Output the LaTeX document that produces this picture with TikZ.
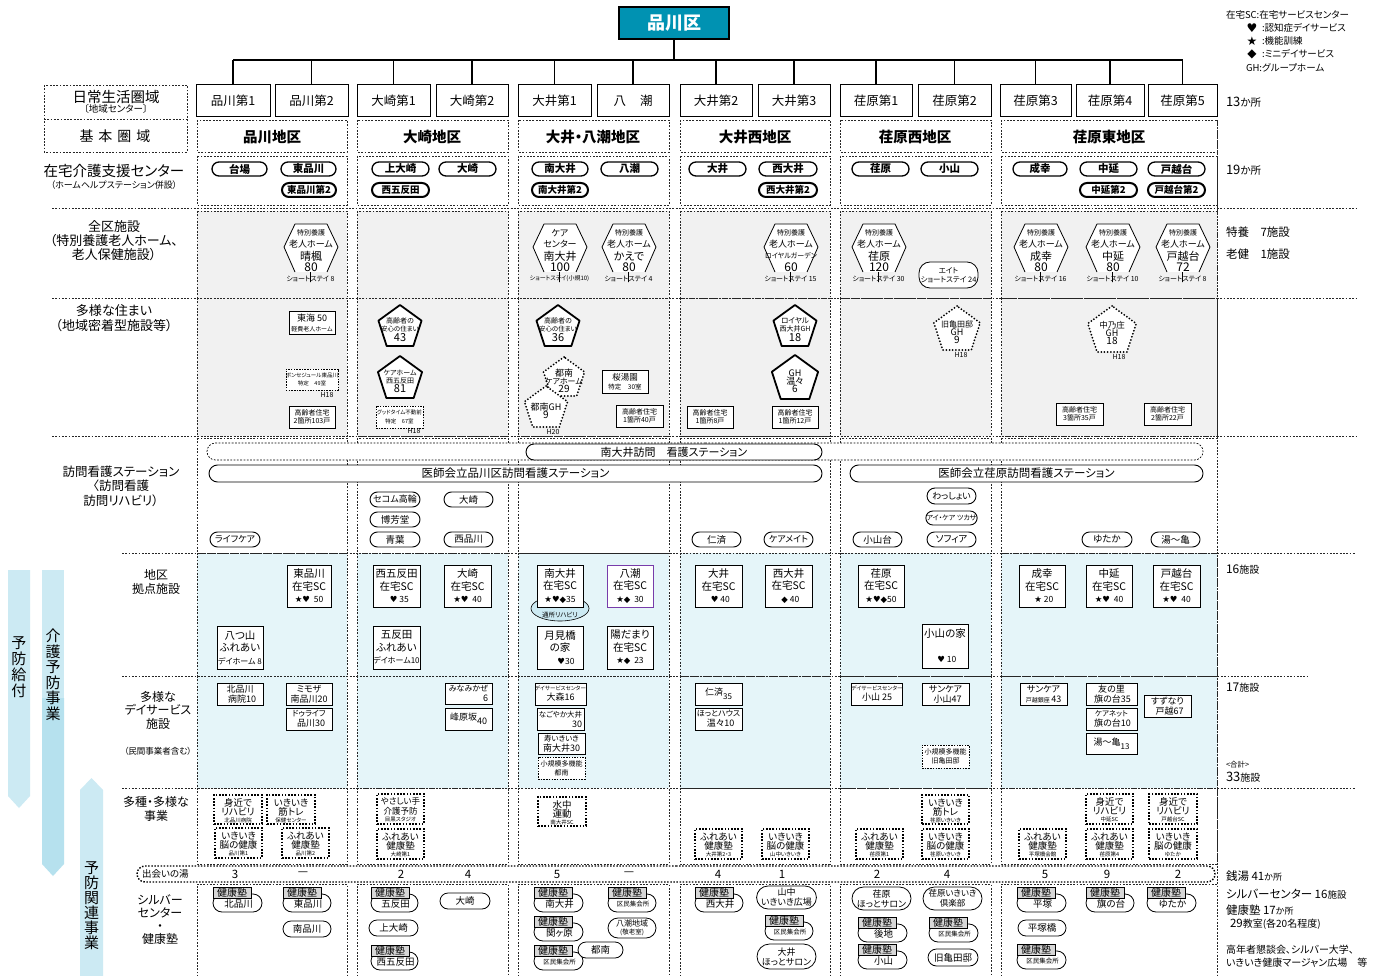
\documentclass[tikz,border=0pt]{standalone}
\usepackage{fontspec}
\setmainfont{Noto Sans CJK JP}[RawFeature={+palt}]
\newfontfamily\sym{DejaVu Sans}
\usetikzlibrary{shapes.misc,shapes.geometric}
\definecolor{teal1}{RGB}{0,146,178}
\definecolor{gfill}{RGB}{241,241,241}
\definecolor{bfill}{RGB}{229,245,249}
\definecolor{band1}{RGB}{204,234,243}
\definecolor{band2}{RGB}{182,225,238}
\definecolor{kjgray}{RGB}{215,215,215}
\definecolor{purp}{RGB}{120,60,170}
\newcommand\fz[2]{\fontsize{#1}{#2}\selectfont}
\newcommand\sSt{{\sym ★}}
\newcommand\sHt{{\sym ♥}}
\newcommand\sDm{{\sym ◆}}
\newcounter{nid}
\newcommand\Tx[3][]{\stepcounter{nid}\node[#1] (n\arabic{nid}) at (#2) {#3};}
\newcommand\Bxx[6][]{\stepcounter{nid}%
 \pgfmathsetmacro\bxcx{(#2+#4)/2}\pgfmathsetmacro\bxcy{(#3+#5)/2}%
 \pgfmathsetmacro\bxw{#4-#2}\pgfmathsetmacro\bxh{#5-#3}%
 \node[minimum width=\bxw pt,minimum height=\bxh pt,#1] (n\arabic{nid}) at (\bxcx,\bxcy) {#6};}
\newcommand\Penta[5][]{%
 \pgfmathsetmacro\pR{(#4-#3)/1.809}\pgfmathsetmacro\pD{2*\pR}%
 \pgfmathsetmacro\pcy{#3+\pR}\pgfmathsetmacro\pty{\pcy+2}%
 \stepcounter{nid}%
 \node[regular polygon,regular polygon sides=5,minimum size=\pD pt,#1] (n\arabic{nid}) at (#2,\pcy) {};%
 \Tx[align=center,font=\fz{6.5}{8}]{#2,\pty}{#5}}
\newcommand\Toku[7]{%
 \Bxx[draw,fill=white,rounded corners=10pt,line width=0.8pt,#7]{#1-28}{262}{#1+27}{288}{}%
 \fill[white] (#1-16,224) -- (#1+16,224) -- (#1+27,247) -- (#1+16,272) -- (#1-16,272) -- (#1-27,247) -- cycle;%
 \draw[line width=0.8pt,line join=round] (#1-16,272) -- (#1-27,247) -- (#1-16,224) -- (#1+16,224) -- (#1+27,247) -- (#1+16,272);%
 \Tx[font=\fz{7}{7}]{#1,233}{#2}%
 \Tx[font=\fz{9}{9}]{#1,244}{#3}%
 \Tx[font=\fz{11}{11}]{#1,256}{#4}%
 \Tx[font=\fz{12}{12}]{#1,267}{#5}%
 \Tx[font=\fz{7}{7}]{#1-0.5,279}{#6}}
\newcommand\KJ[4]{%
 \pgfmathsetmacro\kja{#2+7}\pgfmathsetmacro\kjb{#2+25}%
 \pgfmathsetmacro\kjc{#1+38}\pgfmathsetmacro\kjd{#2+11}%
 \pgfmathsetmacro\kjx{(#1+#3)/2+1}\pgfmathsetmacro\kjy{#2+17}%
 \Bxx[kpill]{#1}{\kja}{#3}{\kjb}{}%
 \Tx[font=\fz{9.5}{9.5}]{\kjx,\kjy}{#4}%
 \Bxx[draw,line width=0.8pt,fill=kjgray,font=\fz{10}{10}]{#1}{#2}{\kjc}{\kjd}{健康塾}}
\newcommand\DB[7]{%
 \Bxx[dbx]{#1}{#2}{#3}{#4}{}%
 \pgfmathsetmacro\dbmx{(#1+#3)/2}\pgfmathsetmacro\dya{#2+7.5}%
 \pgfmathsetmacro\dyb{#2+17}\pgfmathsetmacro\dyc{#2+25}%
 \Tx[font=\fz{9.5}{9.5}]{\dbmx,\dya}{#5}%
 \Tx[font=\fz{9.5}{9.5}]{\dbmx,\dyb}{#6}%
 \Tx[font=\fz{5.5}{5.5}]{\dbmx,\dyc}{#7}}
\begin{document}
\begin{tikzpicture}[x=1pt,y=-1pt,
 every node/.style={inner sep=0pt,outer sep=0pt},
 cellb/.style={draw=black!85,line width=0.6pt,dash pattern=on 1.8pt off 1.5pt},
 sq/.style={draw,line width=0.8pt,fill=white,align=center},
 dsq/.style={draw,line width=0.7pt,dash pattern=on 1.5pt off 1.2pt,fill=white,align=center},
 dbx/.style={draw,line width=1.3pt,dash pattern=on 1.6pt off 1.6pt,fill=white},
 pill/.style={rounded rectangle,draw,line width=0.9pt,fill=white,align=center},
 bpill/.style={pill,line width=1.3pt,font=\bfseries\fz{10.5}{10.5}},
 bbpill/.style={pill,line width=2pt,font=\bfseries\fz{9.5}{9.5}},
 spill/.style={pill,line width=0.9pt,font=\fz{9.5}{9.5}},
 kpill/.style={pill,line width=0.8pt,font=\fz{9.5}{9.5}},
 scb/.style={sq,font=\fz{10.5}{12.5}},
 dsb/.style={sq,font=\fz{9}{10}},
 smb/.style={sq,line width=0.7pt,font=\fz{7}{8.5}},
 treeln/.style={line width=1.6pt},
 boxa/.style={draw,line width=1pt,fill=white,minimum height=32pt,font=\fz{12.5}{12.5}},
 dotpent/.style={draw,line width=2pt,dash pattern=on 0pt off 3.2pt,line cap=round,fill=white},
 thpent/.style={draw,line width=1.8pt,fill=white,line join=round}]
\useasboundingbox (0,0) rectangle (1376,976);
\fill[white] (0,0) rectangle (1376,976);

% ---------- bands ----------
\fill[band1] (8,570) -- (30,570) -- (30,796) -- (19,808) -- (8,796) -- cycle;
\fill[band1] (42,570) -- (64,570) -- (64,698) -- (42,698) -- cycle;
\fill[band2] (42,698) -- (64,698) -- (64,864) -- (53,876) -- (42,864) -- cycle;
\fill[band1] (80,790) -- (91.5,778) -- (103,790) -- (103,976) -- (80,976) -- cycle;
\Tx[font=\fz{15}{16},align=center]{19,667}{予\\防\\給\\付}
\Tx[font=\fz{15}{15.5},align=center]{53,675}{介\\護\\予\\防\\事\\業}
\Tx[font=\fz{15}{15},align=center]{91.5,906}{予\\防\\関\\連\\事\\業}

% ---------- cells ----------
\foreach \a/\b in {197/347,357/508,518/669,680/830,840/991,1001/1217}{
 \draw[cellb,fill=white] (\a,120) rectangle (\b,152);
 \draw[cellb,fill=white] (\a,156) rectangle (\b,205);
 \draw[cellb,fill=gfill] (\a,211) rectangle (\b,298);
 \draw[cellb,fill=gfill] (\a,298) rectangle (\b,436);
 \draw[cellb,fill=white] (\a,438) rectangle (\b,553);
 \draw[cellb,fill=bfill] (\a,553) rectangle (\b,676);
 \draw[cellb,fill=bfill] (\a,676) rectangle (\b,788);
 \draw[cellb,fill=white] (\a,788) rectangle (\b,864);
 \draw[cellb] (\a,980) -- (\a,884) -- (\b,884) -- (\b,980);
}
\draw[cellb] (1217,120) -- (1217,976);
\draw[cellb] (44,85) rectangle (187,152);
\draw[cellb] (44,119) -- (187,119);
\draw[cellb] (52,208) -- (1356,208);
\draw[cellb] (52,298) -- (1356,298);
\draw[cellb] (52,436) -- (1356,436);
\draw[cellb] (122,553) -- (1356,553);
\draw[cellb] (122,676) -- (1308,676);
\draw[cellb] (122,788) -- (1356,788);

% ---------- top tree ----------
\node[draw,line width=1.5pt,fill=teal1,minimum width=110pt,minimum height=32pt,text=white,font=\bfseries\fz{18}{18}] (ku) at (674,23) {品川区};
\node[boxa,minimum width=74pt] (b1) at (233,101) {品川第1};
\node[boxa,minimum width=73pt] (b2) at (311.5,101) {品川第2};
\node[boxa,minimum width=73pt] (b3) at (393.5,101) {大崎第1};
\node[boxa,minimum width=72pt] (b4) at (472,101) {大崎第2};
\node[boxa,minimum width=73pt] (b5) at (554.5,101) {大井第1};
\node[boxa,minimum width=72pt] (b6) at (633,101) {八\hspace{14pt}潮};
\node[boxa,minimum width=72pt] (b7) at (716,101) {大井第2};
\node[boxa,minimum width=72pt] (b8) at (794,101) {大井第3};
\node[boxa,minimum width=72pt] (b9) at (876,101) {荏原第1};
\node[boxa,minimum width=73pt] (b10) at (954.5,101) {荏原第2};
\node[boxa,minimum width=71pt] (b11) at (1035.5,101) {荏原第3};
\node[boxa,minimum width=68pt] (b12) at (1110,101) {荏原第4};
\node[boxa,minimum width=69pt] (b13) at (1182.5,101) {荏原第5};
\coordinate (busy) at (0,60);
\draw[treeln] (ku.south) -- (ku.south |- busy);
\draw[treeln] (b1.north |- busy) -- (b13.north |- busy);
\foreach \i in {1,...,13}{\draw[treeln] (b\i.north) -- (b\i.north |- busy);}

% ---------- legend ----------
\Tx[anchor=west,font=\fz{9.5}{9.5}]{1226,15}{在宅SC:在宅サービスセンター}
\Tx[font=\fz{12}{12}]{1252,28}{\sHt}
\Tx[anchor=west,font=\fz{9.5}{9.5}]{1262,28}{:認知症デイサービス}
\Tx[font=\fz{12}{12}]{1252,41}{\sSt}
\Tx[anchor=west,font=\fz{9.5}{9.5}]{1262,41}{:機能訓練}
\Tx[font=\fz{12}{12}]{1252,54}{\sDm}
\Tx[anchor=west,font=\fz{9.5}{9.5}]{1262,54}{:ミニデイサービス}
\Tx[anchor=west,font=\fz{9.5}{9.5}]{1246,68}{GH:グループホーム}

% ---------- left labels ----------
\Tx[font=\fz{14.5}{14.5}]{116,97}{日常生活圏域}
\Tx[font=\fz{9.5}{9.5}]{116,109}{〔地域センター〕}
\Tx[font=\fz{14}{14}]{115,136}{基\hspace{5pt}本\hspace{5pt}圏\hspace{5pt}域}
\Tx[font=\fz{14.5}{14.5}]{114,171}{在宅介護支援センター}
\Tx[font=\fz{9}{9}]{114,185}{（ホームヘルプステーション併設）}
\Tx[font=\fz{13}{14},align=center]{114,241}{全区施設\\（特別養護老人ホーム、\\老人保健施設）}
\Tx[font=\fz{13}{15},align=center]{114,318}{多様な住まい\\（地域密着型施設等）}
\Tx[font=\fz{12.5}{14.5},align=center]{121,486}{訪問看護ステーション\\〈訪問看護\\訪問リハビリ）}
\Tx[font=\fz{12}{13.5},align=center]{156,582}{地区\\拠点施設}
\Tx[font=\fz{12}{13.5},align=center]{158,710}{多様な\\デイサービス\\施設}
\Tx[font=\fz{8.5}{8.5}]{158,751}{（民間事業者含む）}
\Tx[font=\fz{12}{14.5},align=center]{156,809}{多種・多様な\\事業}
\Tx[font=\fz{12}{13},align=center]{160,920}{シルバー\\センター\\・\\健康塾}

% ---------- right labels ----------
\Tx[anchor=west,font=\fz{13}{13}]{1226,102}{13{\fz{10.5}{10.5}か所}}
\Tx[anchor=west,font=\fz{13}{13}]{1226,170}{19{\fz{10.5}{10.5}か所}}
\Tx[anchor=west,font=\fz{11.5}{11.5}]{1226,232}{特養　7施設}
\Tx[anchor=west,font=\fz{11.5}{11.5}]{1226,254}{老健　1施設}
\Tx[anchor=west,font=\fz{12}{12}]{1226,570}{16{\fz{10}{10}施設}}
\Tx[anchor=west,font=\fz{12}{12}]{1226,688}{17{\fz{10}{10}施設}}
\Tx[anchor=west,font=\fz{7.5}{7.5}]{1226,765}{<合計>}
\Tx[anchor=west,font=\fz{13}{13}]{1226,777}{33{\fz{10}{10}施設}}
\Tx[anchor=west,font=\fz{11.5}{11.5}]{1226,876}{銭湯 41{\fz{9}{9}か所}}
\Tx[anchor=west,font=\fz{11.5}{11.5}]{1226,894}{シルバーセンター 16{\fz{9.5}{9.5}施設}}
\Tx[anchor=west,font=\fz{11.5}{11.5}]{1226,910}{健康塾 17{\fz{9}{9}か所}}
\Tx[anchor=west,font=\fz{11.5}{11.5}]{1230,924}{29{\fz{10}{10}教室(各20名程度)}}
\Tx[anchor=west,font=\fz{10}{10}]{1226,950}{高年者懇談会、シルバー大学、}
\Tx[anchor=west,font=\fz{10}{10}]{1226,963}{いきいき健康マージャン広場　等}

% ---------- row 2 ----------
\Tx[font=\bfseries\fz{14.5}{14.5}]{272,137}{品川地区}
\Tx[font=\bfseries\fz{14.5}{14.5}]{432,137}{大崎地区}
\Tx[font=\bfseries\fz{14.5}{14.5}]{593,137}{大井・八潮地区}
\Tx[font=\bfseries\fz{14.5}{14.5}]{755,137}{大井西地区}
\Tx[font=\bfseries\fz{14.5}{14.5}]{915,137}{荏原西地区}
\Tx[font=\bfseries\fz{14.5}{14.5}]{1109,137}{荏原東地区}

% ---------- row 3 ----------
\Bxx[bpill]{212}{162}{267}{176}{台場}
\Bxx[bpill]{281}{162}{336}{176}{東品川}
\Bxx[bbpill]{282}{183}{336}{197}{東品川第2}
\Bxx[bpill]{372}{162}{429}{176}{上大崎}
\Bxx[bpill]{439}{162}{496}{176}{大崎}
\Bxx[bbpill]{372}{183}{429}{197}{西五反田}
\Bxx[bpill]{532}{162}{588}{176}{南大井}
\Bxx[bpill]{601}{162}{658}{176}{八潮}
\Bxx[bbpill]{532}{183}{588}{197}{南大井第2}
\Bxx[bpill]{689}{162}{746}{176}{大井}
\Bxx[bpill]{759}{162}{817}{176}{西大井}
\Bxx[bbpill]{759}{183}{817}{197}{西大井第2}
\Bxx[bpill]{852}{162}{909}{176}{荏原}
\Bxx[bpill]{921}{162}{978}{176}{小山}
\Bxx[bpill]{1013}{162}{1067}{176}{成幸}
\Bxx[bpill]{1080}{162}{1137}{176}{中延}
\Bxx[bpill]{1148}{162}{1205}{176}{戸越台}
\Bxx[bbpill]{1080}{183}{1137}{197}{中延第2}
\Bxx[bbpill]{1148}{183}{1205}{197}{戸越台第2}

% ---------- row 4 ----------
\Toku{311}{特別養護}{老人ホーム}{晴楓}{80}{ショートステイ 8}{}
\Toku{560}{{\fz{9}{9}ケア}}{センター}{南大井}{100}{{\fz{6}{6}ショートステイ(小規10)}}{}
\Toku{629}{特別養護}{老人ホーム}{かえで}{80}{ショートステイ 4}{}
\Toku{791}{特別養護}{老人ホーム}{{\fz{7}{7}ロイヤルガーデン}}{60}{ショートステイ 15}{}
\Toku{879}{特別養護}{老人ホーム}{荏原}{120}{ショートステイ 30}{}
\Bxx[draw,fill=white,rounded corners=11pt,line width=0.8pt,align=center,font=\fz{7.5}{9}]{919}{262}{978}{288}{エイト\\ショートステイ 24}
\Toku{1041}{特別養護}{老人ホーム}{成幸}{80}{ショートステイ 16}{dash pattern=on 1.5pt off 1.5pt}
\Toku{1113}{特別養護}{老人ホーム}{中延}{80}{ショートステイ 10}{}
\Toku{1183}{特別養護}{老人ホーム}{戸越台}{72}{ショートステイ 8}{}

% ---------- row 5 ----------
\Bxx[smb,font=\fz{9}{10}]{289}{311}{335}{334}{東海 50\\{\fz{6}{6}軽費老人ホーム}}
\Bxx[dsq,font=\fz{5.5}{8.5}]{289}{369}{335}{390}{ボンセジュール東品川\\特定　49室}
\Tx[font=\fz{7}{7}]{327,395}{H18}
\Bxx[smb]{289}{406}{335}{428}{高齢者住宅\\2箇所103戸}
\Penta[thpent]{400}{305}{346}{{\fz{7}{8}高齢者の}\\安心の住まい\\{\fz{11}{11}43}}
\Penta[thpent]{400}{356}{398}{{\fz{7}{8}ケアホーム}\\{\fz{7}{8}西五反田}\\{\fz{11}{11}81}}
\Bxx[dsq,font=\fz{5.5}{8.5}]{376}{406}{423}{428}{グッドタイム不動前\\特定　67室}
\Tx[font=\fz{7}{7}]{414,431}{H18}
\Penta[thpent]{558}{305}{346}{{\fz{7}{8}高齢者の}\\安心の住まい\\{\fz{11}{11}36}}
\Penta[dotpent]{564}{357}{396}{{\fz{9}{9}都南}\\{\fz{8}{9}ケアホーム}\\{\fz{10}{10}29}}
\Penta[dotpent]{546}{386}{427}{{\fz{9}{10}都南GH}\\{\fz{10}{10}9}}
\Tx[font=\fz{7}{7}]{553,432}{H20}
\Bxx[smb,font=\fz{8.5}{9.5}]{602}{370}{648}{393}{桜湯園\\{\fz{6.5}{7}特定　30室}}
\Bxx[smb]{616}{405}{663}{427}{高齢者住宅\\1箇所40戸}
\Bxx[smb]{687}{406}{733}{428}{高齢者住宅\\1箇所8戸}
\Penta[thpent]{795}{305}{346}{{\fz{7.5}{8}ロイヤル}\\{\fz{7}{8}西大井GH}\\{\fz{11}{11}18}}
\Penta[thpent]{795}{355}{399}{{\fz{9}{10}GH}\\{\fz{9}{10}温々}\\{\fz{10}{10}6}}
\Bxx[smb]{772}{406}{818}{428}{高齢者住宅\\1箇所12戸}
\Penta[dotpent]{957}{306}{350}{{\fz{8}{9}旧亀田邸}\\{\fz{9}{9}GH}\\{\fz{10}{10}9}}
\Tx[font=\fz{7}{7}]{961,355}{H18}
\Penta[dotpent]{1112}{306}{352}{{\fz{8.5}{9}中乃庄}\\{\fz{9}{9}GH}\\{\fz{10}{10}18}}
\Tx[font=\fz{7}{7}]{1119,357}{H18}
\Bxx[smb]{1056}{403}{1103}{425}{高齢者住宅\\3箇所35戸}
\Bxx[smb]{1144}{403}{1191}{425}{高齢者住宅\\2箇所22戸}

% ---------- row 6 ----------
\Bxx[pill,line width=0.7pt,dash pattern=on 1.8pt off 1.5pt]{207}{443}{1203}{460}{}
\Bxx[pill,font=\fz{11}{11}]{526}{444}{822}{460}{南大井訪問　看護ステーション}
\Bxx[pill,font=\fz{11.5}{11.5}]{209}{465}{822}{482}{医師会立品川区訪問看護ステーション}
\Bxx[pill,font=\fz{11.5}{11.5}]{850}{465}{1203}{482}{医師会立荏原訪問看護ステーション}
\Bxx[spill,font=\fz{9}{9}]{210}{532}{260}{547}{ライフケア}
\Bxx[spill,font=\fz{9}{9}]{370}{492}{420}{507}{セコム高輪}
\Bxx[spill]{444}{492}{493}{507}{大崎}
\Bxx[spill]{370}{512}{420}{527}{博芳堂}
\Bxx[spill]{370}{532}{420}{547}{青葉}
\Bxx[spill]{444}{532}{493}{547}{西品川}
\Bxx[spill]{692}{532}{741}{547}{仁済}
\Bxx[spill,font=\fz{9}{9}]{764}{532}{813}{547}{ケアメイト}
\Bxx[spill]{853}{532}{902}{547}{小山台}
\Bxx[spill,font=\fz{9}{9}]{927}{488}{976}{504}{わっしょい}
\Bxx[spill,font=\fz{7}{7}]{927}{511}{976}{525}{アイ・ケア ツカサ}
\Bxx[spill]{927}{532}{976}{547}{ソフィア}
\Bxx[spill]{1082}{532}{1132}{547}{ゆたか}
\Bxx[spill]{1151}{532}{1200}{547}{湯～亀}

% ---------- row 7 ----------
\Bxx[scb]{287}{565}{331}{607}{東品川\\在宅SC\\{\fz{8.5}{8.5}\sSt\sHt\ \ 50}}
\Bxx[scb]{217}{626}{263}{669}{八つ山\\ふれあい\\{\fz{8}{8}デイホーム 8}}
\Bxx[scb]{373}{565}{420}{607}{西五反田\\在宅SC\\{\fz{8.5}{8.5}\ \ \ \sHt\ 35}}
\Bxx[scb]{444}{565}{491}{607}{大崎\\在宅SC\\{\fz{8.5}{8.5}\sSt\sHt\ \ 40}}
\Bxx[scb]{373}{626}{420}{669}{五反田\\ふれあい\\{\fz{8}{8}デイホーム10}}
\Bxx[ellipse,draw,line width=0.6pt,fill=band1]{531}{596}{589}{621}{}
\Tx[font=\fz{6.5}{6.5}]{560,615}{通所リハビリ}
\Bxx[scb]{537}{565}{583}{607}{南大井\\在宅SC\\{\fz{8.5}{8.5}\sSt\sHt\sDm 35}}
\Bxx[scb,draw=purp]{607}{565}{653}{607}{八潮\\在宅SC\\{\fz{8.5}{8.5}\sSt\sDm\ \ 30}}
\Bxx[scb]{537}{626}{583}{669}{月見橋\\の家\\{\fz{8.5}{8.5}\hspace{12pt}\sHt 30}}
\Bxx[scb]{607}{626}{653}{669}{陽だまり\\在宅SC\\{\fz{8.5}{8.5}\sSt\sDm\ \ 23}}
\Bxx[scb]{695}{565}{742}{607}{大井\\在宅SC\\{\fz{8.5}{8.5}\ \ \sHt\ 40}}
\Bxx[scb]{765}{565}{812}{607}{西大井\\在宅SC\\{\fz{8.5}{8.5}\ \ \sDm\ 40}}
\Bxx[scb]{858}{565}{904}{607}{荏原\\在宅SC\\{\fz{8.5}{8.5}\sSt\sHt\sDm 50}}
\Bxx[scb]{922}{624}{968}{668}{小山の家\\\mbox{}\\{\fz{8.5}{8.5}\ \ \sHt\ 10}}
\Bxx[scb]{1019}{565}{1065}{607}{成幸\\在宅SC\\{\fz{8.5}{8.5}\ \ \sSt\ 20}}
\Bxx[scb]{1086}{565}{1132}{607}{中延\\在宅SC\\{\fz{8.5}{8.5}\sSt\sHt\ \ 40}}
\Bxx[scb]{1153}{565}{1200}{607}{戸越台\\在宅SC\\{\fz{8.5}{8.5}\sSt\sHt\ \ 40}}

% ---------- row 8 ----------
\Bxx[dsb]{217}{683}{263}{705}{北品川\\\ \ 病院10}
\Bxx[dsb]{286}{683}{332}{705}{ミモザ\\南品川20}
\Bxx[dsb]{286}{708}{332}{730}{{\fz{8}{8}ドゥライフ}\\\ \ 品川30}
\Bxx[dsb,align=right]{445}{683}{492}{704}{{\fz{8}{8}みなみかぜ}\\6}
\Bxx[dsb]{445}{708}{492}{730}{峰原坂\raisebox{-4pt}{40}}
\Bxx[dsb]{537}{683}{584}{705}{{\fz{5.5}{6}デイサービスセンター}\\大森16}
\Bxx[dsb,align=right]{537}{708}{584}{730}{{\fz{7.5}{8}なごやか大井}\\30}
\Bxx[dsb]{538}{733}{585}{754}{{\fz{7.5}{8}寿いきいき}\\南大井30}
\Bxx[dsq,font=\fz{7}{9}]{538}{757}{585}{779}{小規模多機能\\都南}
\Bxx[dsb]{695}{683}{742}{705}{仁済\raisebox{-4pt}{{\fz{8}{8}35}}}
\Bxx[dsb]{695}{708}{742}{730}{{\fz{8}{8}ほっとハウス}\\\ \ 温々10}
\Bxx[dsb]{853}{683}{901}{705}{{\fz{5.5}{6}デイサービスセンター}\\小山 25}
\Bxx[dsb]{922}{683}{969}{705}{サンケア\\\ \ 小山47}
\Bxx[dsq,font=\fz{7}{9}]{922}{745}{969}{768}{小規模多機能\\旧亀田邸}
\Bxx[dsb]{1020}{683}{1067}{705}{サンケア\\{\fz{6}{6}戸越銀座}\,43}
\Bxx[dsb]{1086}{683}{1137}{705}{友の里\\\ 旗の台35}
\Bxx[dsb]{1086}{708}{1137}{730}{{\fz{7.5}{8}ケアネット}\\\ 旗の台10}
\Bxx[dsb]{1086}{733}{1137}{754}{湯～亀\raisebox{-4pt}{{\fz{8}{8}13}}}
\Bxx[dsb]{1144}{695}{1191}{717}{すずなり\\\ \ 戸越67}

% ---------- row 9 ----------
\DB{214}{795}{262}{824}{身近で}{リハビリ}{北品川病院}
\DB{267}{795}{315}{824}{いきいき}{筋トレ}{保健センター}
\DB{215}{828}{262}{858}{いきいき}{脳の健康}{品川第1}
\DB{282}{828}{329}{858}{ふれあい}{健康塾}{品川第2}
\DB{377}{794}{424}{824}{{\fz{8.5}{9}やさしい手}}{{\fz{8.5}{9}介護予防}}{目黒スタジオ}
\DB{377}{829}{424}{859}{ふれあい}{健康塾}{大崎第1}
\DB{538}{797}{586}{826}{水中}{運動}{南大井SC}
\DB{695}{829}{742}{859}{ふれあい}{健康塾}{大井第2・3}
\DB{762}{829}{809}{859}{いきいき}{脳の健康}{山中いきいき}
\DB{856}{829}{903}{859}{ふれあい}{健康塾}{荏原第1}
\DB{922}{795}{969}{824}{いきいき}{筋トレ}{荏原いきいき}
\DB{922}{829}{969}{859}{いきいき}{脳の健康}{荏原いきいき}
\DB{1019}{829}{1066}{859}{ふれあい}{健康塾}{平塚橋会館}
\DB{1086}{794}{1133}{824}{身近で}{リハビリ}{中延SC}
\DB{1086}{829}{1133}{859}{ふれあい}{健康塾}{荏原第4}
\DB{1149}{794}{1197}{824}{身近で}{リハビリ}{戸越台SC}
\DB{1149}{829}{1197}{859}{いきいき}{脳の健康}{ゆたか}

% ---------- deai no yu ----------
\Bxx[rounded rectangle,draw,line width=1.4pt,dash pattern=on 1.5pt off 1.6pt]{137}{866}{1215}{882}{}
\Tx[font=\fz{9.5}{9.5},anchor=west]{142,874}{出会いの湯}
\foreach \qa/\qb in {235/3,303/—,401/2,468/4,557/5,629/—,718/4,782/1,877/2,947/4,1045/5,1107/9,1178/2}{
 \Tx[font=\fz{11.5}{11.5}]{\qa,874}{\qb}}

% ---------- row 10 ----------
\KJ{213}{887}{262}{北品川}
\KJ{283}{887}{331}{東品川}
\Bxx[kpill]{283}{921}{331}{937}{南品川}
\KJ{371}{887}{418}{五反田}
\Bxx[kpill]{440}{893}{490}{909}{大崎}
\Bxx[kpill]{369}{920}{418}{936}{上大崎}
\KJ{371}{945}{418}{西五反田}
\KJ{534}{887}{583}{南大井}
\KJ{608}{887}{656}{{\fz{6.5}{6.5}区民集会所}}
\KJ{534}{916}{583}{関ヶ原}
\Bxx[kpill,font=\fz{8}{8.5}]{608}{918}{656}{938}{八潮地域\\{\fz{6.5}{7}(敬老室)}}
\KJ{534}{945}{583}{{\fz{6.5}{6.5}区民集会所}}
\Bxx[kpill]{578}{942}{623}{958}{都南}
\KJ{695}{887}{743}{西大井}
\Bxx[kpill,font=\fz{9}{10}]{757}{886}{816}{909}{山中\\いきいき広場}
\KJ{765}{915}{813}{{\fz{6.5}{6.5}区民集会所}}
\Bxx[kpill,font=\fz{9}{10}]{757}{944}{816}{969}{大井\\ほっとサロン}
\Bxx[kpill,font=\fz{9}{10}]{852}{887}{911}{910}{荏原\\ほっとサロン}
\Bxx[kpill,font=\fz{8.5}{10}]{923}{887}{982}{910}{荏原いきいき\\倶楽部}
\KJ{858}{917}{907}{後地}
\KJ{929}{917}{978}{{\fz{6.5}{6.5}区民集会所}}
\KJ{858}{944}{907}{小山}
\Bxx[kpill]{928}{949}{978}{966}{旧亀田邸}
\KJ{1017}{887}{1066}{平塚}
\Bxx[kpill]{1018}{920}{1066}{936}{平塚橋}
\KJ{1017}{944}{1066}{{\fz{6.5}{6.5}区民集会所}}
\KJ{1086}{887}{1134}{旗の台}
\KJ{1147}{887}{1196}{ゆたか}
\end{tikzpicture}
\end{document}
